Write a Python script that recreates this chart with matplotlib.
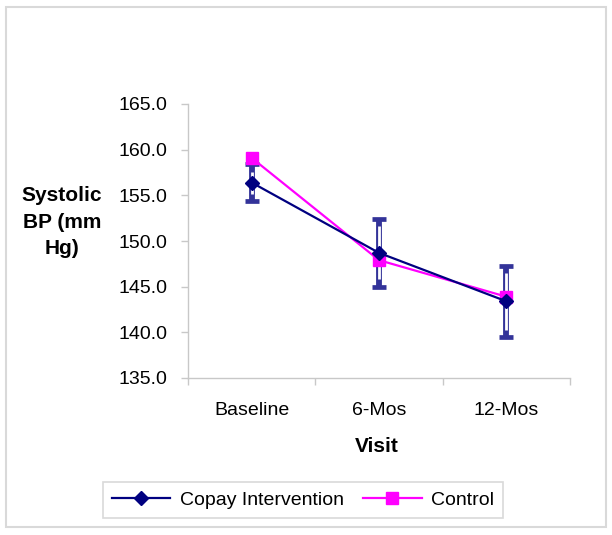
import numpy as np
import matplotlib
matplotlib.use("Agg")
import matplotlib.pyplot as plt
from matplotlib.patches import Rectangle

plt.rcParams['font.family'] = ['Liberation Sans', 'DejaVu Sans']

visits = ['Baseline', '6-Mos', '12-Mos']
copay = [156.4, 148.7, 143.4]
copay_err = [2.0, 3.7, 3.9]
control = [159.1, 147.9, 143.9]
yticks = [135.0, 140.0, 145.0, 150.0, 155.0, 160.0, 165.0]

W, H = 612, 535
fig = plt.figure(figsize=(W / 100, H / 100), dpi=100)
ax = fig.add_axes([188 / W, 1 - 378 / H, 382 / W, 274 / H])

x = np.arange(len(visits)) + 0.5
bar_col = '#333399'

# excel style "outlined" error bars: thick bar with a white core
ax.errorbar(x, copay, yerr=copay_err, fmt='none', ecolor=bar_col,
            elinewidth=4.2, capsize=5, capthick=3.4, zorder=1)
lo = np.array(copay) - np.array(copay_err) + 0.8
hi = np.array(copay) + np.array(copay_err) - 0.8
ax.vlines(x, lo, hi, colors='white', linewidth=2.0, zorder=1.5)

ax.plot(x, copay, color='#000080', marker='D', markersize=7, linewidth=1.6,
        label='Copay Intervention', zorder=3)
ax.plot(x, control, color='#FF00FF', marker='s', markersize=9, linewidth=1.6,
        label='Control', zorder=2)

ax.set_xlim(0, 3)
ax.set_ylim(135, 165)
ax.set_yticks(yticks)
ax.set_yticklabels(['%.1f' % v for v in yticks])
ax.set_xticks([0, 1, 2, 3])
ax.set_xticklabels([])
ax.set_xticks(x, minor=True)
ax.set_xticklabels(visits, minor=True)
ax.tick_params(axis='x', which='minor', length=0, pad=17, labelsize=14)
ax.tick_params(axis='x', which='major', length=5, color='#c8c8c8', width=1)
ax.tick_params(axis='y', length=5, color='#c8c8c8', width=1, pad=10, labelsize=14)

for s in ['top', 'right']:
    ax.spines[s].set_visible(False)
for s in ['left', 'bottom']:
    ax.spines[s].set_color('#c8c8c8')
    ax.spines[s].set_linewidth(1)

fig.text(377 / W, 1 - 447 / H, 'Visit', ha='center', va='center',
         fontsize=15, fontweight='bold')
fig.text(62 / W, 1 - 222 / H, 'Systolic\nBP (mm\nHg)', ha='center', va='center',
         fontsize=15, fontweight='bold', linespacing=1.5)

leg = fig.legend(loc='center', bbox_to_anchor=(303 / W, 1 - 500 / H), ncol=2,
                 fontsize=14, handlelength=3.0, handletextpad=0.5,
                 columnspacing=1.0, fancybox=False, frameon=True,
                 borderpad=0.45, borderaxespad=0)
leg.get_frame().set_edgecolor('#d0d0d0')
leg.get_frame().set_linewidth(1.2)

fig.patches.append(Rectangle((6 / W, 1 - 527 / H), 600 / W, 520 / H,
                             transform=fig.transFigure, fill=False,
                             edgecolor='#d9d9d9', linewidth=1.5))

fig.savefig('out.png', dpi=100)
